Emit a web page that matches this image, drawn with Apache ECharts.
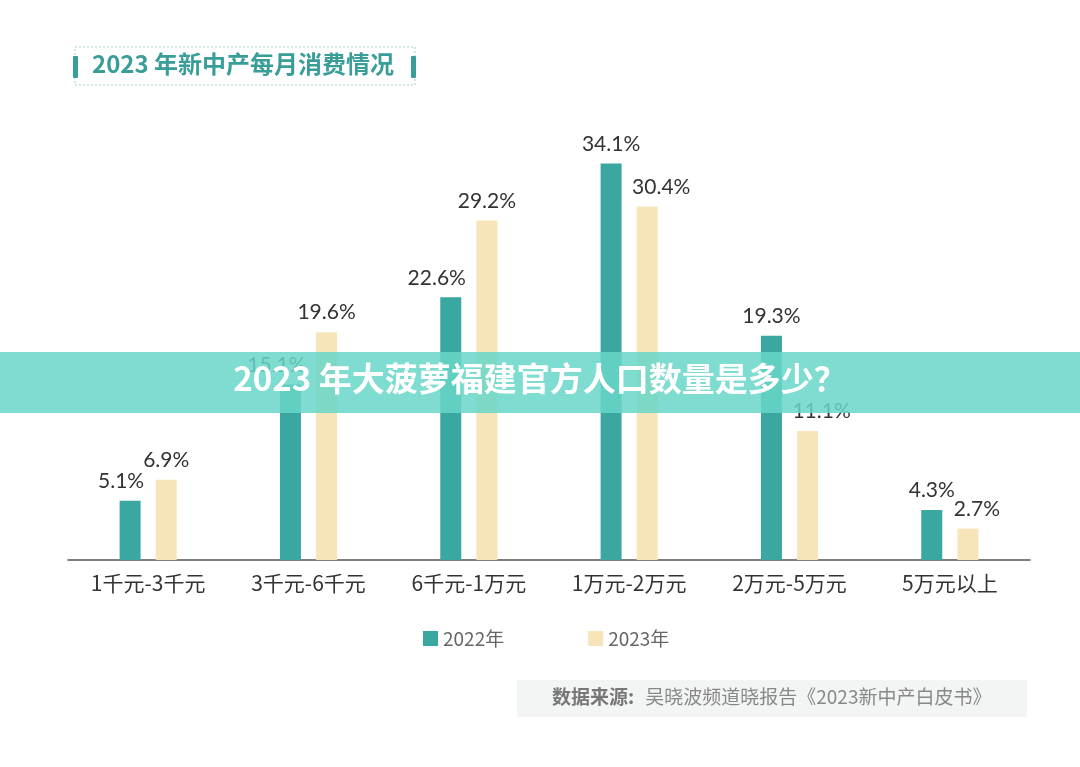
<!DOCTYPE html>
<html>
<head>
<meta charset="utf-8">
<script src="https://cdn.jsdelivr.net/npm/echarts@6/dist/echarts.min.js"></script>
<style>html,body{margin:0;padding:0;background:#fff;}#c{width:1080px;height:767px;}</style>
</head>
<body>
<div id="c"></div>
<script>
const categories = ['1千元-3千元', '3千元-6千元', '6千元-1万元', '1万元-2万元', '2万元-5万元', '5万元以上'];
const values2022 = [5.1, 15.1, 22.6, 34.1, 19.3, 4.3];
const values2023 = [6.9, 19.6, 29.2, 30.4, 11.1, 2.7];
const seriesNames = ['2022年', '2023年'];
const titleText = '2023 年新中产每月消费情况';
const bannerText = '2023 年大菠萝福建官方人口数量是多少？';
const sourceBold = '数据来源:';
const sourceRest = ' 吴晓波频道晓报告《2023新中产白皮书》';

const CJK = '"Noto Sans CJK SC", "Noto Sans", sans-serif';
const NUM = 'Lato, "Noto Sans CJK SC", sans-serif';
const chart = echarts.init(document.getElementById('c'));
const labelCfg = {
  show: true, position: 'top', distance: 9,
  formatter: p => p.value.toFixed(1) + '%',
  color: '#333', fontSize: 21, fontFamily: NUM
};
// the shorter bar's label is nudged away from its taller neighbour so labels do not collide
function shift(own, other, dir) {
  if (own >= other) return 0;
  return dir * (other - own > 2.5 ? 14 : 9);
}
const data2022 = values2022.map((v, i) => ({ value: v, label: { offset: [shift(v, values2023[i], -1), 0] } }));
const data2023 = values2023.map((v, i) => ({ value: v, label: { offset: [shift(v, values2022[i], 1), 0] } }));

chart.setOption({
  animation: false,
  backgroundColor: '#fff',
  grid: { left: 68, right: 50, top: 95, bottom: 207 },
  legend: {
    data: seriesNames, left: 418, top: 624, itemWidth: 15, itemHeight: 15, itemGap: 84,
    icon: 'rect',
    textStyle: { color: '#666', fontSize: 19, fontFamily: CJK }
  },
  xAxis: {
    type: 'category', data: categories,
    axisLine: { lineStyle: { color: '#555', width: 1.5 } },
    axisTick: { show: false },
    axisLabel: { color: '#333', fontSize: 21, margin: 13, fontFamily: CJK }
  },
  yAxis: { type: 'value', min: 0, max: 40, show: false, splitLine: { show: false } },
  series: [
    { name: seriesNames[0], type: 'bar', data: data2022, barWidth: 21, barGap: '72%',
      itemStyle: { color: '#3ba7a1' }, label: labelCfg },
    { name: seriesNames[1], type: 'bar', data: data2023, barWidth: 21,
      itemStyle: { color: '#f8e4b9' }, label: labelCfg }
  ],
  graphic: [
    { type: 'rect', shape: { x: 75, y: 47, width: 340, height: 38 },
      style: { fill: 'none', stroke: '#9fcfcb', lineWidth: 1, lineDash: [2, 2] } },
    { type: 'rect', shape: { x: 73, y: 56, width: 5, height: 22, r: 1 }, style: { fill: '#3a9e98' } },
    { type: 'rect', shape: { x: 411, y: 56, width: 5, height: 22, r: 1 }, style: { fill: '#3a9e98' } },
    { type: 'text', left: 92, top: 52,
      style: { text: titleText, fill: '#3a9e98', fontSize: 24, fontWeight: 'bold', fontFamily: CJK } },
    { type: 'rect', z: 100, shape: { x: 0, y: 352, width: 1080, height: 61 },
      style: { fill: 'rgba(104,214,200,0.85)' } },
    { type: 'text', z: 101, left: 'center', top: 362,
      style: { text: bannerText, fill: '#fff', fontSize: 33, fontWeight: 'bold', fontFamily: CJK } },
    { type: 'rect', shape: { x: 517, y: 680, width: 510, height: 37 }, style: { fill: '#f3f5f5' } },
    { type: 'text', left: 552, top: 687,
      style: { text: sourceBold, fill: '#777', fontSize: 19, fontWeight: 'bold', fontFamily: CJK } },
    { type: 'text', left: 641, top: 687,
      style: { text: sourceRest, fill: '#888', fontSize: 19, fontFamily: CJK } }
  ]
});
</script>
</body>
</html>
